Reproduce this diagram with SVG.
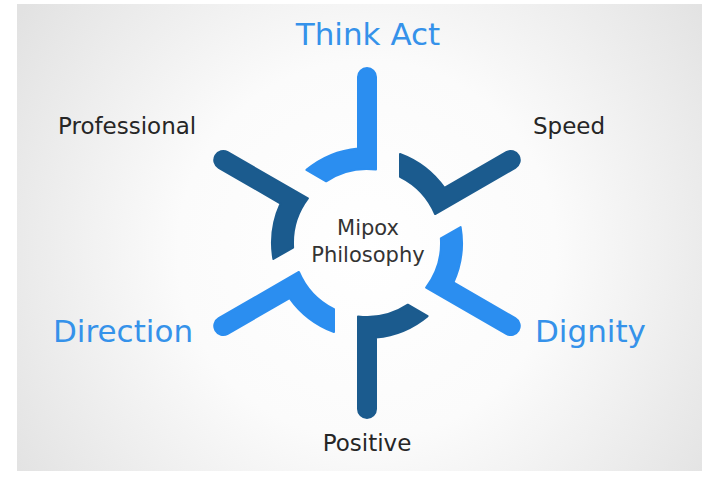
<svg xmlns="http://www.w3.org/2000/svg" xmlns:xlink="http://www.w3.org/1999/xlink" width="702" height="477" viewBox="0 0 702 477">
  <style>
    .light { fill: #2b8ef0; stroke: #2b8ef0; stroke-width: 2; stroke-linejoin: round; }
    .dark { fill: #1b5b8e; stroke: #1b5b8e; stroke-width: 2; stroke-linejoin: round; }
    .lbl { font-family: "DejaVu Sans", Verdana, sans-serif; }
    .big { font-size: 31px; fill: #3592ea; }
    .small { font-size: 23px; fill: #262626; }
    .hub { font-size: 21px; fill: #333333; text-anchor: middle; }
  </style>
  <defs>
    <radialGradient id="bg" cx="367" cy="250" r="420" gradientUnits="userSpaceOnUse">
      <stop offset="0" stop-color="#ffffff"/>
      <stop offset="0.45" stop-color="#fbfbfb"/>
      <stop offset="1" stop-color="#e2e2e2"/>
    </radialGradient>
    <path id="piece" d="M 9,-166 L 9,-73.45 A 74 74 0 0 0 -40.86,-61.70 L -60.64,-73.12 A 95 95 0 0 1 -9,-94.57 L -9,-166 A 9 9 0 0 1 9,-166 Z"/>
  </defs>
  <rect x="0" y="0" width="702" height="477" fill="#ffffff"/>
  <rect x="17" y="4" width="685" height="467" fill="url(#bg)"/>

  <g id="hub">
    <text class="lbl hub" x="368" y="235">Mipox</text>
    <text class="lbl hub" x="368" y="262">Philosophy</text>
  </g>

  <g id="think-act">
    <use xlink:href="#piece" class="light" transform="translate(367,243)"/>
    <text class="lbl big" x="368" y="45" text-anchor="middle">Think Act</text>
  </g>
  <g id="speed">
    <use xlink:href="#piece" class="dark" transform="translate(367,243) rotate(60)"/>
    <text class="lbl small" x="533" y="134">Speed</text>
  </g>
  <g id="dignity">
    <use xlink:href="#piece" class="light" transform="translate(367,243) rotate(120)"/>
    <text class="lbl big" x="535" y="342">Dignity</text>
  </g>
  <g id="positive">
    <use xlink:href="#piece" class="dark" transform="translate(367,243) rotate(180)"/>
    <text class="lbl small" x="367" y="451" text-anchor="middle">Positive</text>
  </g>
  <g id="direction">
    <use xlink:href="#piece" class="light" transform="translate(367,243) rotate(240)"/>
    <text class="lbl big" x="53" y="342">Direction</text>
  </g>
  <g id="professional">
    <use xlink:href="#piece" class="dark" transform="translate(367,243) rotate(300)"/>
    <text class="lbl small" x="58" y="134">Professional</text>
  </g>

  <g id="connectors"/>
</svg>
